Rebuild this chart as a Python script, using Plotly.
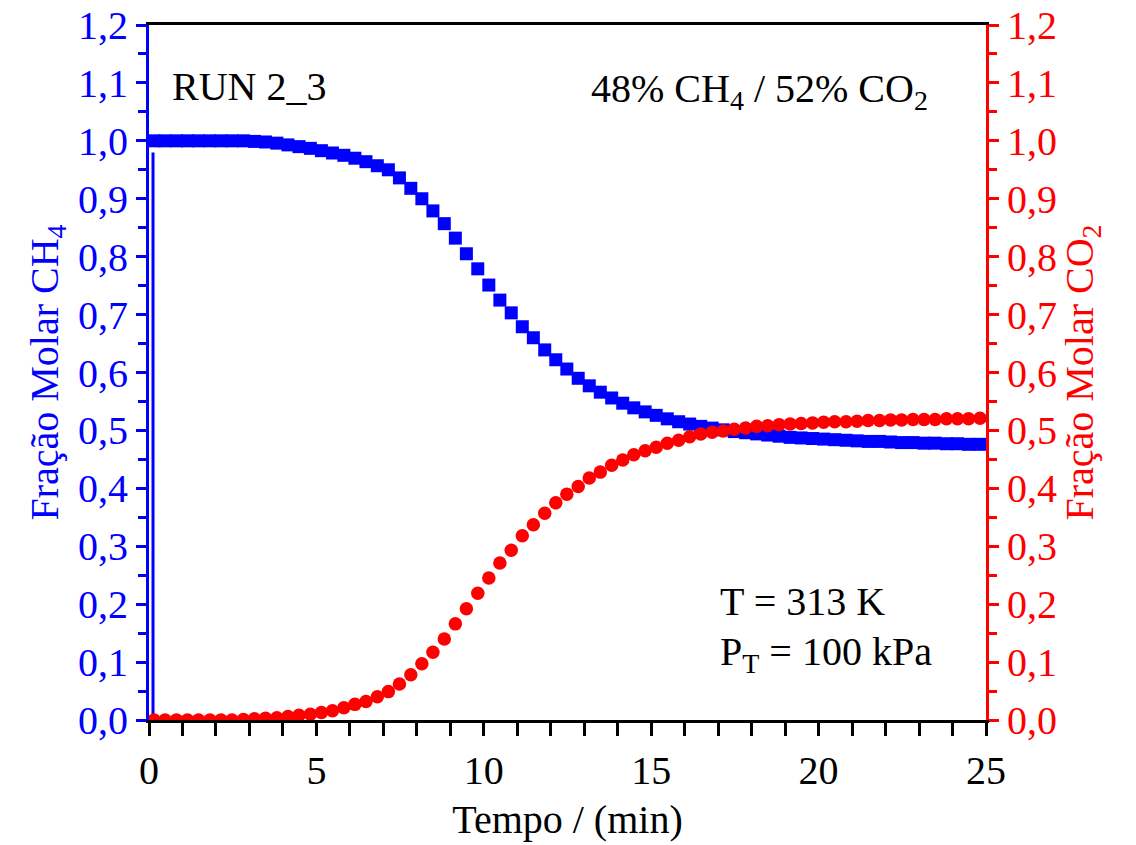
import plotly.graph_objects as go

# time (min) of each sample
tempo = [0.15, 0.48, 0.82, 1.15, 1.48, 1.82, 2.15, 2.48, 2.82, 3.15,
         3.48, 3.82, 4.15, 4.48, 4.82, 5.15, 5.48, 5.82, 6.15, 6.48,
         6.82, 7.15, 7.48, 7.82, 8.15, 8.48, 8.82, 9.15, 9.48, 9.82,
         10.15, 10.48, 10.82, 11.15, 11.48, 11.82, 12.15, 12.48, 12.82, 13.15,
         13.48, 13.82, 14.15, 14.48, 14.82, 15.15, 15.48, 15.82, 16.15, 16.48,
         16.82, 17.15, 17.48, 17.82, 18.15, 18.48, 18.82, 19.15, 19.48, 19.82,
         20.15, 20.48, 20.82, 21.15, 21.48, 21.82, 22.15, 22.48, 22.82, 23.15,
         23.48, 23.82, 24.15, 24.48, 24.82]

ch4 = [1.000, 1.000, 1.000, 1.000, 1.000, 1.000, 1.000, 1.000, 1.000, 0.999,
       0.998, 0.996, 0.993, 0.990, 0.987, 0.983, 0.979, 0.975, 0.970, 0.964,
       0.957, 0.950, 0.936, 0.918, 0.900, 0.879, 0.857, 0.832, 0.805, 0.779,
       0.751, 0.725, 0.703, 0.679, 0.660, 0.639, 0.622, 0.606, 0.590, 0.577,
       0.566, 0.556, 0.547, 0.539, 0.532, 0.526, 0.520, 0.515, 0.511, 0.507,
       0.504, 0.501, 0.498, 0.496, 0.494, 0.492, 0.490, 0.488, 0.487, 0.486,
       0.485, 0.484, 0.483, 0.482, 0.481, 0.481, 0.480, 0.479, 0.479, 0.478,
       0.478, 0.477, 0.477, 0.476, 0.476]

co2 = [0.000, 0.000, 0.000, 0.000, 0.000, 0.000, 0.000, 0.000, 0.001, 0.002,
       0.003, 0.004, 0.006, 0.008, 0.010, 0.013, 0.016, 0.021, 0.027, 0.032,
       0.040, 0.049, 0.062, 0.078, 0.097, 0.117, 0.140, 0.166, 0.192, 0.219,
       0.245, 0.271, 0.293, 0.318, 0.337, 0.357, 0.375, 0.390, 0.403, 0.418,
       0.428, 0.440, 0.449, 0.458, 0.465, 0.471, 0.478, 0.483, 0.489, 0.494,
       0.497, 0.499, 0.502, 0.504, 0.507, 0.508, 0.510, 0.511, 0.512, 0.513,
       0.514, 0.515, 0.515, 0.516, 0.517, 0.517, 0.518, 0.518, 0.519, 0.519,
       0.519, 0.520, 0.520, 0.520, 0.521]

# start of the CH4 signal (detector switch-on): rise from 0 to first reading
ch4_start_t = [0.12, 0.12]
ch4_start_y = [0.0, 0.98]

y_ticks = [0.0, 0.1, 0.2, 0.3, 0.4, 0.5, 0.6, 0.7, 0.8, 0.9, 1.0, 1.1, 1.2]
x_ticks = [0, 5, 10, 15, 20, 25]

BLUE = "#0000FF"
RED = "#FF0000"
FONT = "Liberation Serif"
FS = 40

fig = go.Figure()
fig.add_trace(go.Scatter(
    x=ch4_start_t, y=ch4_start_y, mode="lines",
    line=dict(color=BLUE, width=3), yaxis="y", showlegend=False))
fig.add_trace(go.Scatter(
    x=tempo, y=ch4, mode="markers",
    marker=dict(symbol="square", size=13, color=BLUE, opacity=1, line=dict(width=0)),
    yaxis="y", showlegend=False))
fig.add_trace(go.Scatter(
    x=tempo, y=co2, mode="markers",
    marker=dict(symbol="circle", size=13.5, color=RED, opacity=1, line=dict(width=0)),
    yaxis="y2", showlegend=False))

fig.update_layout(
    width=1136, height=845,
    margin=dict(l=141, r=158, t=17, b=133),
    paper_bgcolor="white", plot_bgcolor="white",
    separators=",.",
    font=dict(family=FONT, size=FS, color="black"),
    xaxis=dict(
        range=[0, 25], tickvals=x_ticks, ticks="outside", ticklen=13, tickwidth=3,
        tickcolor="black", showline=True, linecolor="black", linewidth=3, mirror=True,
        showgrid=False, zeroline=False, automargin=False, ticklabeloverflow="allow",
        tickfont=dict(family=FONT, size=FS, color="black"),
        minor=dict(dtick=1, ticks="outside", ticklen=13, tickwidth=3, tickcolor="black"),
        title=dict(text="Tempo / (min)", font=dict(family=FONT, size=FS, color="black"), standoff=13),
    ),
    yaxis=dict(
        range=[0, 1.2], tickvals=y_ticks, tickformat=".1f", ticks="outside", ticklen=10,
        tickwidth=3, tickcolor=BLUE, showline=True, linecolor=BLUE, linewidth=3,
        showgrid=False, zeroline=False, automargin=False, ticklabeloverflow="allow",
        tickfont=dict(family=FONT, size=FS, color=BLUE),
        minor=dict(dtick=0.05, ticks="outside", ticklen=8, tickwidth=3, tickcolor=BLUE),
        title=dict(text="Fração Molar CH<sub>4</sub>", font=dict(family=FONT, size=FS, color=BLUE), standoff=8),
    ),
    yaxis2=dict(
        range=[0, 1.2], tickvals=y_ticks, tickformat=".1f", ticks="outside", ticklen=10,
        tickwidth=3, tickcolor=RED, showline=True, linecolor=RED, linewidth=3,
        overlaying="y", side="right", anchor="x",
        showgrid=False, zeroline=False, automargin=False, ticklabeloverflow="allow",
        tickfont=dict(family=FONT, size=FS, color=RED),
        minor=dict(dtick=0.05, ticks="outside", ticklen=8, tickwidth=3, tickcolor=RED),
        title=dict(text="Fração Molar CO<sub>2</sub>", font=dict(family=FONT, size=FS, color=RED), standoff=8),
    ),
    annotations=[
        dict(text="RUN 2_3", xref="paper", yref="paper", x=0.025, y=0.911,
             xanchor="left", yanchor="middle", showarrow=False,
             font=dict(family=FONT, size=FS, color="black")),
        dict(text="48% CH<sub>4</sub> / 52% CO<sub>2</sub>", xref="paper", yref="paper",
             x=0.933, y=0.905, xanchor="right", yanchor="middle", showarrow=False,
             font=dict(family=FONT, size=FS, color="black")),
        dict(text="T = 313 K", xref="paper", yref="paper", x=0.68, y=0.17,
             xanchor="left", yanchor="middle", showarrow=False,
             font=dict(family=FONT, size=FS, color="black")),
        dict(text="P<sub>T</sub> = 100 kPa", xref="paper", yref="paper", x=0.68, y=0.095,
             xanchor="left", yanchor="middle", showarrow=False,
             font=dict(family=FONT, size=FS, color="black")),
    ],
)

fig.write_html("out.html")
